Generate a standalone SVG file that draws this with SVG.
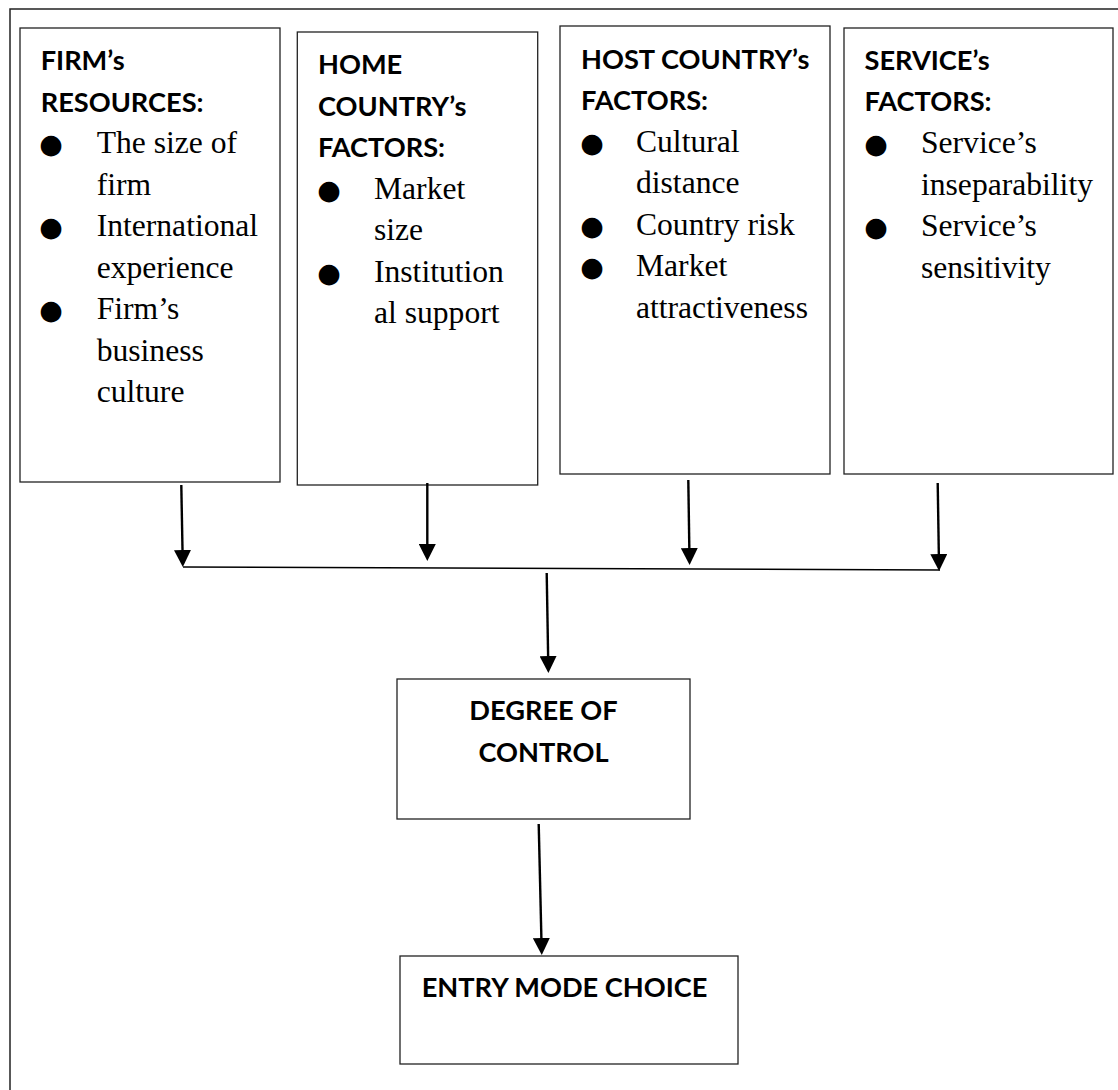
<svg xmlns="http://www.w3.org/2000/svg" width="1118" height="1090" viewBox="0 0 1118 1090">
<defs>
<style>
.frame{fill:none;stroke:#222;stroke-width:1.5}
.box{fill:#fff;stroke:#222;stroke-width:1.3}
.ttl{font-family:"Lato","Liberation Sans",sans-serif;font-weight:bold;font-size:27.2px;fill:#000}
.txt{font-family:"Liberation Serif","Times New Roman",serif;font-size:31.6px;fill:#000}
.bul{font-family:"DejaVu Sans",sans-serif;font-size:27px;fill:#000;text-anchor:middle}
.con{fill:none;stroke:#000;stroke-width:2.4}
.bus{fill:none;stroke:#000;stroke-width:1.6}
</style>
<marker id="ah" viewBox="0 0 17 17" refX="5" refY="8.5" markerWidth="17" markerHeight="17" markerUnits="userSpaceOnUse" orient="auto">
<path d="M0,0 L17,8.5 L0,17 Z" fill="#000"/>
</marker>
</defs>
<rect width="1118" height="1090" fill="#fff"/>
<rect class="frame" x="10" y="9" width="1200" height="1200"/>

<g id="firm">
<rect class="box" x="20" y="28" width="260" height="454"/>
<text class="ttl" x="40.7" y="70">FIRM’s</text>
<text class="ttl" x="40.7" y="111.5">RESOURCES:</text>
<text class="bul" x="51" y="153">●</text>
<text class="bul" x="51" y="236">●</text>
<text class="bul" x="51" y="319">●</text>
<text class="txt" x="96.7" y="153">The size of</text>
<text class="txt" x="96.7" y="194.5">firm</text>
<text class="txt" x="96.7" y="236">International</text>
<text class="txt" x="96.7" y="277.5">experience</text>
<text class="txt" x="96.7" y="319">Firm’s</text>
<text class="txt" x="96.7" y="360.5">business</text>
<text class="txt" x="96.7" y="402">culture</text>
</g>

<g id="home">
<rect class="box" x="297.3" y="32" width="240.4" height="453"/>
<text class="ttl" x="318" y="74">HOME</text>
<text class="ttl" x="318" y="115.5">COUNTRY’s</text>
<text class="ttl" x="318" y="157">FACTORS:</text>
<text class="bul" x="329" y="198.5">●</text>
<text class="bul" x="329" y="281.5">●</text>
<text class="txt" x="374" y="198.5">Market</text>
<text class="txt" x="374" y="240">size</text>
<text class="txt" x="374" y="281.5">Institution</text>
<text class="txt" x="374" y="323">al support</text>
</g>

<g id="host">
<rect class="box" x="560" y="26" width="270" height="448"/>
<text class="ttl" x="581" y="68.5">HOST COUNTRY’s</text>
<text class="ttl" x="581" y="110">FACTORS:</text>
<text class="bul" x="592" y="151.5">●</text>
<text class="bul" x="592" y="234.5">●</text>
<text class="bul" x="592" y="276">●</text>
<text class="txt" x="636" y="151.5">Cultural</text>
<text class="txt" x="636" y="193">distance</text>
<text class="txt" x="636" y="234.5">Country risk</text>
<text class="txt" x="636" y="276">Market</text>
<text class="txt" x="636" y="317.5">attractiveness</text>
</g>

<g id="service">
<rect class="box" x="844" y="28" width="269" height="446"/>
<text class="ttl" x="864.5" y="70">SERVICE’s</text>
<text class="ttl" x="864.5" y="111">FACTORS:</text>
<text class="bul" x="876" y="153">●</text>
<text class="bul" x="876" y="236">●</text>
<text class="txt" x="921" y="153">Service’s</text>
<text class="txt" x="921" y="194.5">inseparability</text>
<text class="txt" x="921" y="236">Service’s</text>
<text class="txt" x="921" y="277.5">sensitivity</text>
</g>

<g id="degree">
<rect class="box" x="397" y="679" width="293" height="140"/>
<text class="ttl" x="543.5" y="720" text-anchor="middle">DEGREE OF</text>
<text class="ttl" x="543.5" y="762" text-anchor="middle">CONTROL</text>
</g>

<g id="entry">
<rect class="box" x="400" y="956" width="338" height="108"/>
<text class="ttl" x="421.7" y="997">ENTRY MODE CHOICE</text>
</g>

<g id="connectors">
<line class="con" x1="181.3" y1="485" x2="182.6" y2="555" marker-end="url(#ah)"/>
<line class="con" x1="427.3" y1="483" x2="427.3" y2="549" marker-end="url(#ah)"/>
<line class="con" x1="688.3" y1="480" x2="689.4" y2="553" marker-end="url(#ah)"/>
<line class="con" x1="937.7" y1="483" x2="938.9" y2="559" marker-end="url(#ah)"/>
<line class="bus" x1="183" y1="567" x2="940" y2="570"/>
<line class="con" x1="546.7" y1="573" x2="548.2" y2="661" marker-end="url(#ah)"/>
<line class="con" x1="538.7" y1="824" x2="541.5" y2="943" marker-end="url(#ah)"/>
</g>
</svg>
